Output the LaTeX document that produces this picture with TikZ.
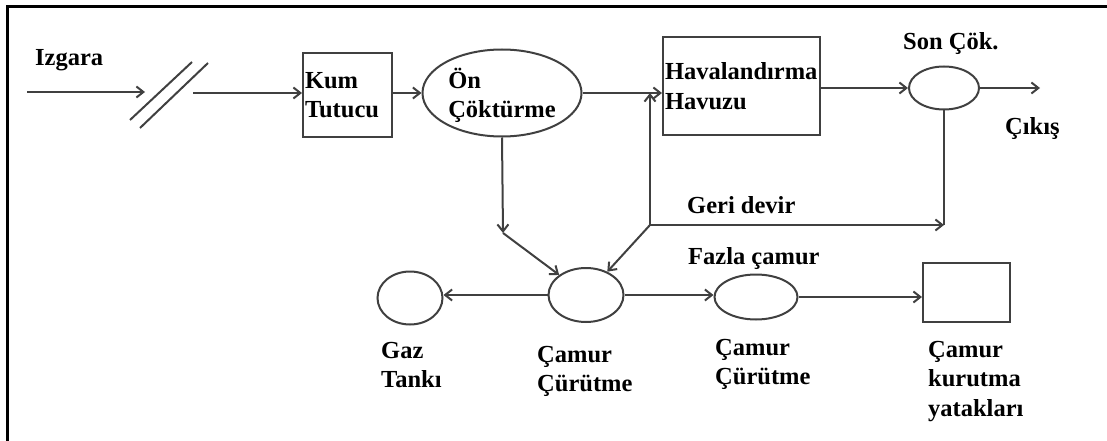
\documentclass[tikz,border=0pt]{standalone}
\usepackage{fontspec}
\setmainfont{Liberation Serif}
\usepackage{tikz}
\usetikzlibrary{arrows.meta,shapes.geometric}
\tikzset{>={Straight Barb[length=7pt,width=11pt]}}
\tikzset{
  unit/.style={draw=black!75, line width=2pt, rectangle, align=left, inner xsep=2pt, inner ysep=0pt},
  tank/.style={draw=black!75, line width=2pt, ellipse, align=left, inner sep=0pt},
  lbl/.style={align=left, inner sep=0pt, anchor=north west},
  flow/.style={draw=black!75, line width=2pt},
}

\begin{document}
\begin{tikzpicture}[x=1pt, y=-1pt]

  \fontsize{24.5}{29.5}\selectfont\bfseries

  \useasboundingbox (0,0) rectangle (1107,441);
  \draw[line width=3pt] (7,441) -- (7,7) -- (1107,7); % frame

  %% top line
  \node[unit, minimum width=89pt, minimum height=83pt, text width=85pt] (kum) at (347.5,95) {Kum\\Tutucu};
  \node[tank, minimum width=159pt, minimum height=87pt, text depth=0pt] (onc) at (502,93) {Ön\\Çöktürme};
  \node[unit, minimum width=157pt, minimum height=98pt, text width=153pt] (hav) at (741.5,86) {Havalandırma\\Havuzu};
  \node[tank, minimum width=70pt, minimum height=43pt] (son) at (944,88) {};

  %% sludge line
  \node[tank, minimum width=65pt, minimum height=53pt] (gaz) at (410,298) {};
  \node[tank, minimum width=75pt, minimum height=54pt] (cur) at (586,295) {};
  \node[tank, minimum width=83pt, minimum height=45pt] (cam) at (756,297) {};
  \node[unit, minimum width=87pt, minimum height=59pt] (kur) at (966.5,292.5) {};

  % labels
  \node[lbl] (izg) at (35,49) {Izgara};
  \node[lbl] (sonl) at (903,32) {Son Çök.};
  \node[lbl] (cik) at (1005,117) {Çıkış};
  \node[lbl] (geri) at (687,196) {Geri devir};
  \node[lbl] (fazla) at (688,247) {Fazla çamur};
  \node[lbl] (gazl) at (381,342) {Gaz\\Tankı};
  \node[lbl] (curl) at (537,346) {Çamur\\Çürütme};
  \node[lbl] (caml) at (715,339) {Çamur\\Çürütme};
  \node[lbl] (kurl) at (928,341) {Çamur\\kurutma\\yatakları};

  \coordinate (in) at (27,92);
  \coordinate (grin) at (145,92);
  \coordinate (grout) at (193,93);
  \coordinate (cikis) at (1040,88);
  \coordinate (dn) at (503,233);
  \coordinate (gd) at (650,225);
  \coordinate (up) at (650,93);
  \coordinate (gdr) at (son.south |- gd);

  % grate
  \draw[flow] (130,120) -- (192,62);
  \draw[flow] (140,128) -- (208,63);

  \draw[flow,->] (in) -- (grin);
  \draw[flow,->] (grout) -- (grout -| kum.west);
  \draw[flow,->] (kum.east |- onc.west) -- (onc.west);
  \draw[flow,->] (onc.east) -- (hav.west |- onc.east);
  \draw[flow,->] (hav.east |- son.west) -- (son.west);
  \draw[flow,->] (son.east) -- (cikis);

  %% return sludge
  \draw[flow] (son.south) -- (gdr);
  \draw[flow,->] (gd) -- (gdr);
  \draw[flow,->] (gd) -- (up);
  \draw[flow,->] (gd) -- (cur);

  \draw[flow,->] (onc.south) -- (dn);
  \draw[flow,->] (dn) -- (cur);

  \draw[flow,->] (cur.west) -- (gaz.east |- cur.west); %% cur->gaz
  \draw[flow,->] (cur.east) -- (cam.west |- cur.east); %% cur->cam
  \draw[flow,->] (cam.east) -- (kur.west |- cam.east); %% cam->kur

\end{tikzpicture}
\end{document}
